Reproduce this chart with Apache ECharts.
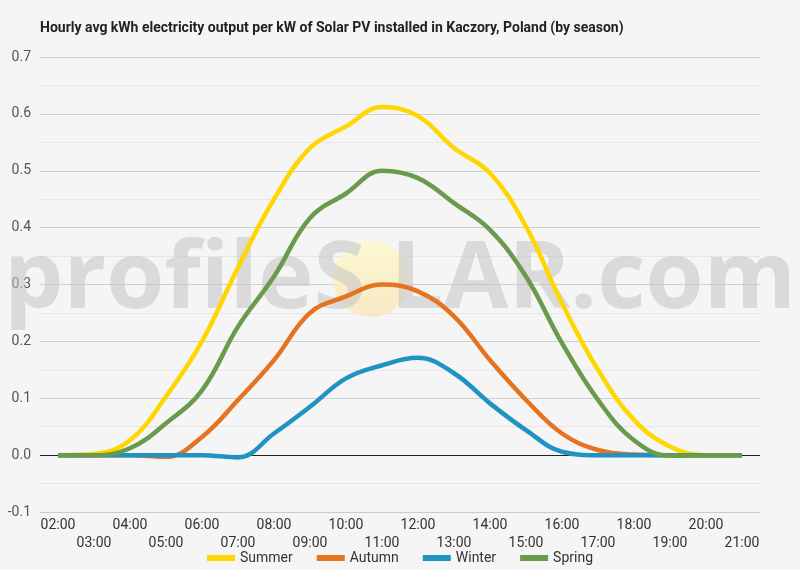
<!DOCTYPE html>
<html>
<head>
<meta charset="utf-8">
<script src="https://cdn.jsdelivr.net/npm/echarts@6/dist/echarts.min.js"></script>
<style>
html,body{margin:0;padding:0;background:#f5f5f5;}
#chart{width:800px;height:570px;}
</style>
</head>
<body>
<div id="chart"></div>
<script>
var hours = ['02:00','03:00','04:00','05:00','06:00','07:00','08:00','09:00','10:00','11:00','12:00','13:00','14:00','15:00','16:00','17:00','18:00','19:00','20:00','21:00'];
var summer = [0, 0.002, 0.026, 0.103, 0.20, 0.33, 0.45, 0.54, 0.578, 0.612, 0.596, 0.54, 0.496, 0.402, 0.267, 0.15, 0.062, 0.015, 0, 0];
var autumn = [0, 0, 0, -0.003, 0.032, 0.097, 0.167, 0.25, 0.279, 0.30, 0.288, 0.244, 0.167, 0.097, 0.038, 0.009, 0.001, 0, 0, 0];
var winter = [0, 0, 0, 0, 0, -0.004, 0.038, 0.085, 0.135, 0.158, 0.171, 0.144, 0.091, 0.044, 0.006, 0, 0, 0, 0, 0];
var spring = [0, 0, 0.012, 0.056, 0.114, 0.226, 0.314, 0.417, 0.46, 0.50, 0.487, 0.443, 0.396, 0.314, 0.197, 0.097, 0.026, -0.001, 0, 0];
var seriesNames = ['Summer','Autumn','Winter','Spring'];
var seriesColors = ['#FFD700','#E5731F','#2093C3','#6A9A4C'];
var seriesData = [summer, autumn, winter, spring];

var chart = echarts.init(document.getElementById('chart'));
var font = 'Roboto';
var series = seriesNames.map(function(n, i){
  var s = {
    name: n, type: 'line', data: seriesData[i], smooth: 0.4, symbol: 'none',
    lineStyle: {width: 4.5, color: seriesColors[i]}, itemStyle: {color: seriesColors[i]}, z: 3
  };
  if (i === 0) {
    s.markLine = {silent: true, symbol: 'none', label: {show: false},
      lineStyle: {color: '#222', width: 1, type: 'solid'}, data: [{yAxis: 0}], z: 2};
  }
  return s;
});
chart.setOption({
  backgroundColor: '#f5f5f5',
  textStyle: {fontFamily: font},
  title: {
    text: 'Hourly avg kWh electricity output per kW of Solar PV installed in Kaczory, Poland (by season)',
    left: 35, top: 16,
    textStyle: {fontFamily: font, fontSize: 14, fontWeight: 'bold', color: '#222'}
  },
  graphic: [
    {type: 'circle', shape: {cx: 371, cy: 279, r: 38}, z: 1,
      style: {fill: new echarts.graphic.LinearGradient(0, 0, 0, 1, [
        {offset: 0, color: 'rgba(252,249,205,0.9)'},
        {offset: 1, color: 'rgba(250,230,190,0.85)'}])}},
    {type: 'text', left: 4, top: 234, z: 1,
      style: {text: 'profileS', font: 'bold 94px "Open Sans"', fill: 'rgba(195,195,195,0.55)'}},
    {type: 'text', right: 4, top: 234, z: 1,
      style: {text: 'LAR.com', font: 'bold 94px "Open Sans"', fill: 'rgba(195,195,195,0.55)'}}
  ],
  legend: {
    data: seriesNames, bottom: 0, left: 'center', icon: 'rect', itemWidth: 28, itemHeight: 6, itemGap: 24,
    textStyle: {fontFamily: font, fontSize: 14, color: '#333'}
  },
  grid: {left: 40, right: 40, top: 57, bottom: 58, containLabel: false},
  xAxis: {
    type: 'category', data: hours, boundaryGap: true,
    axisLine: {onZero: false, lineStyle: {color: '#ccc'}},
    axisTick: {show: false},
    axisLabel: {interval: 0, margin: 4, fontSize: 14, color: '#333', lineHeight: 18,
      formatter: function(v, i){ return i % 2 === 1 ? '\n' + v : v; }}
  },
  yAxis: {
    type: 'value', min: -0.1, max: 0.7, interval: 0.1,
    axisLine: {show: false}, axisTick: {show: false},
    axisLabel: {fontSize: 14, color: '#555', margin: 9, formatter: function(v){ return v.toFixed(1); }},
    splitLine: {lineStyle: {color: '#cfcfcf'}},
    minorTick: {show: false, splitNumber: 2},
    minorSplitLine: {show: true, lineStyle: {color: '#e6e6e6'}}
  },
  series: series
});
</script>
</body>
</html>
